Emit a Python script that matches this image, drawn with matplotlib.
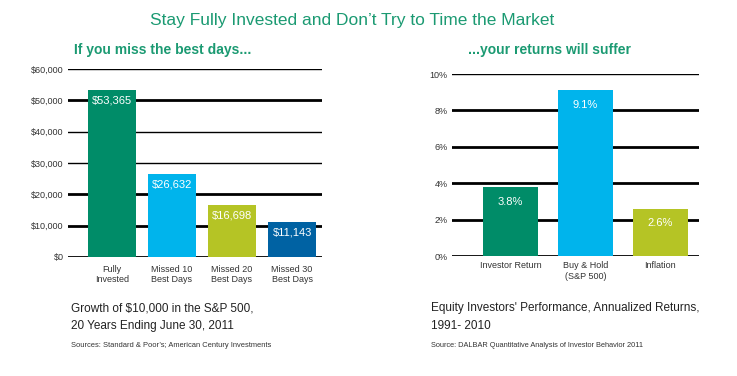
import matplotlib
matplotlib.use("Agg")
import matplotlib.pyplot as plt

plt.rcParams['font.family'] = ['Liberation Sans', 'DejaVu Sans']

# left chart: growth of $10,000
miss_cats = ['Fully\nInvested', 'Missed 10\nBest Days', 'Missed 20\nBest Days', 'Missed 30\nBest Days']
miss_vals = [53365, 26632, 16698, 11143]
miss_labels = ['$53,365', '$26,632', '$16,698', '$11,143']
miss_ticks = [0, 10000, 20000, 30000, 40000, 50000, 60000]
miss_ticklabels = ['$0', '$10,000', '$20,000', '$30,000', '$40,000', '$50,000', '$60,000']
miss_colors = ['#008c68', '#00b4ec', '#b5c425', '#0062a3']

# right chart: annualized returns
ret_cats = ['Investor Return', 'Buy & Hold\n(S&P 500)', 'Inflation']
ret_vals = [3.8, 9.1, 2.6]
ret_labels = ['3.8%', '9.1%', '2.6%']
ret_ticks = [0, 2, 4, 6, 8, 10]
ret_ticklabels = ['0%', '2%', '4%', '6%', '8%', '10%']
ret_colors = ['#008c68', '#00b4ec', '#b5c425']

green = '#1b9a72'
txt = '#333333'

fig = plt.figure(figsize=(7.37, 3.76), dpi=100)
fig.patch.set_facecolor('white')

fig.text(0.478, 0.945, "Stay Fully Invested and Don\u2019t Try to Time the Market",
         ha='center', va='center', fontsize=12.5, color=green)


def draw(ax, cats, vals, labels, ticks, ticklabels, colors, xlim, width, thick, lab_off, xpad):
    ax.set_xlim(*xlim)
    ax.set_ylim(ticks[0], ticks[-1])
    for t in ticks:
        lw = 2.0 if t in thick else 1.0
        ax.axhline(t, color='black', lw=lw, zorder=1)
    x = range(len(vals))
    ax.bar(x, vals, width=width, color=colors, zorder=2)
    for i, (v, l) in enumerate(zip(vals, labels)):
        ax.annotate(l, (i, v), xytext=(0, -lab_off), textcoords='offset points',
                    ha='center', va='top', color='white', fontsize=8, zorder=3)
    ax.set_yticks(ticks)
    ax.set_yticklabels(ticklabels, fontsize=6.5, color=txt)
    ax.set_xticks(list(x))
    ax.set_xticklabels(cats, fontsize=6.5, color=txt, linespacing=1.25)
    ax.tick_params(length=0, pad=3)
    ax.tick_params(axis='x', pad=xpad)
    for s in ax.spines.values():
        s.set_visible(False)
    ax.set_facecolor('none')


ax1 = fig.add_axes([0.092, 0.3165, 0.345, 0.5])
draw(ax1, miss_cats, miss_vals, miss_labels, miss_ticks, miss_ticklabels, miss_colors,
     (-0.733, 3.5), 0.8, [0, 10000, 20000, 50000], 4, 5.5)

ax2 = fig.add_axes([0.613, 0.319, 0.335, 0.484])
draw(ax2, ret_cats, ret_vals, ret_labels, ret_ticks, ret_ticklabels, ret_colors,
     (-0.78, 2.51), 0.73, [0, 2, 4, 6, 8], 7, 3.5)

fig.text(0.101, 0.868, "If you miss the best days...", ha='left', va='center',
         fontsize=10, fontweight='bold', color=green)
fig.text(0.745, 0.868, "...your returns will suffer", ha='center', va='center',
         fontsize=10, fontweight='bold', color=green)

fig.text(0.097, 0.180, "Growth of $10,000 in the S&P 500,", fontsize=8.5, color='#222222', va='center')
fig.text(0.097, 0.132, "20 Years Ending June 30, 2011", fontsize=8.5, color='#222222', va='center')
fig.text(0.097, 0.082, "Sources: Standard & Poor\u2019s; American Century Investments",
         fontsize=5.4, color='#333333', va='center')

fig.text(0.585, 0.180, "Equity Investors' Performance, Annualized Returns,", fontsize=8.5, color='#222222', va='center')
fig.text(0.585, 0.132, "1991- 2010", fontsize=8.5, color='#222222', va='center')
fig.text(0.585, 0.082, "Source: DALBAR Quantitative Analysis of Investor Behavior 2011",
         fontsize=5.3, color='#333333', va='center')

fig.savefig('out.png', dpi=100)
